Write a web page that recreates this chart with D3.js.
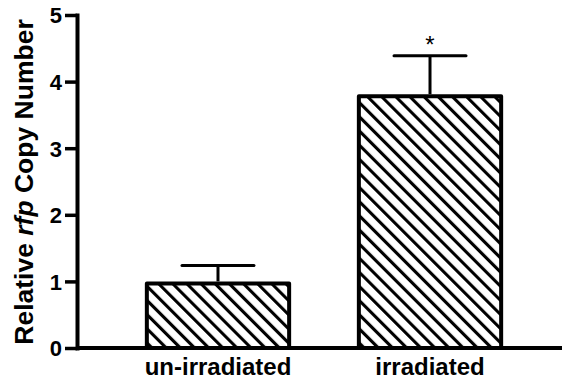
<!DOCTYPE html>
<html>
<head>
<meta charset="utf-8">
<script src="https://cdn.jsdelivr.net/npm/d3@7"></script>
<style>
  body { margin: 0; background: #fff; }
  text { font-family: "Liberation Sans", Arial, sans-serif; font-weight: bold; fill: #000; }
</style>
</head>
<body>
<svg id="chart" width="562" height="379"></svg>
<script>
// data
var categories = ["un-irradiated", "irradiated"];
var means = [1.0, 3.81];
var errors = [0.24, 0.58];
var stars = ["", "*"];
var yTicks = [0, 1, 2, 3, 4, 5];

var W = 562, H = 379;
var svg = d3.select("#chart");

var y = d3.scaleLinear().domain([0, 5]).range([348, 15]);
var x = d3.scaleBand()
    .domain(categories)
    .range([77, 571])
    .paddingInner(0.31)
    .paddingOuter(0.32);

// hatch fill
var pat = svg.append("defs").append("pattern")
    .attr("id", "hatch")
    .attr("patternUnits", "userSpaceOnUse")
    .attr("width", 10).attr("height", 10)
    .attr("patternTransform", "rotate(-45)");
pat.append("rect").attr("width", 10).attr("height", 10).attr("fill", "#fff");
pat.append("line")
    .attr("x1", 1.5).attr("y1", 0).attr("x2", 1.5).attr("y2", 10)
    .attr("stroke", "#000").attr("stroke-width", 3.2);

// error bars (drawn first, bar outline covers the foot)
var eb = svg.append("g").attr("class", "errors")
    .selectAll("g").data(categories).enter().append("g");
eb.append("line")
    .attr("x1", function(d) { return x(d) + x.bandwidth() / 2; })
    .attr("x2", function(d) { return x(d) + x.bandwidth() / 2; })
    .attr("y1", function(d, i) { return y(means[i]); })
    .attr("y2", function(d, i) { return y(means[i] + errors[i]); })
    .attr("stroke", "#000").attr("stroke-width", 3);
eb.append("line")
    .attr("x1", function(d) { return x(d) + x.bandwidth() / 2 - 36; })
    .attr("x2", function(d) { return x(d) + x.bandwidth() / 2 + 36; })
    .attr("y1", function(d, i) { return y(means[i] + errors[i]); })
    .attr("y2", function(d, i) { return y(means[i] + errors[i]); })
    .attr("stroke", "#000").attr("stroke-width", 3)
    .attr("stroke-linecap", "round");
eb.append("text")
    .attr("x", function(d) { return x(d) + x.bandwidth() / 2; })
    .attr("y", function(d, i) { return y(means[i] + errors[i]) - 3; })
    .attr("text-anchor", "middle")
    .style("font-weight", "normal")
    .style("font-size", "24px")
    .text(function(d, i) { return stars[i]; });

// bars
svg.append("g").attr("class", "bars")
    .selectAll("rect").data(categories).enter().append("rect")
    .attr("x", function(d) { return x(d) + 2; })
    .attr("width", x.bandwidth() - 4)
    .attr("y", function(d, i) { return y(means[i]) + 2; })
    .attr("height", function(d, i) { return y(0) - y(means[i]) - 2; })
    .attr("fill", "url(#hatch)")
    .attr("stroke", "#000").attr("stroke-width", 4)
    .attr("stroke-linejoin", "round");

// y axis
var yAxis = svg.append("g")
    .attr("transform", "translate(77,0)")
    .call(d3.axisLeft(y).tickValues(yTicks).tickFormat(d3.format("d"))
        .tickSize(12).tickSizeOuter(0).tickPadding(3));
yAxis.select(".domain").attr("stroke-width", 4).attr("stroke-linecap", "square");
yAxis.selectAll(".tick line").attr("stroke-width", 3.5);
yAxis.selectAll(".tick text")
    .style("font-size", "22px")
    .attr("font-family", null).attr("dy", "0.36em");

// x axis
var xAxis = svg.append("g")
    .attr("transform", "translate(0,348)")
    .call(d3.axisBottom(x).tickSize(0).tickPadding(10));
xAxis.select(".domain").attr("d", "M77,0H" + W).attr("stroke-width", 4);
xAxis.selectAll(".tick text")
    .style("font-size", "24px")
    .attr("font-family", null);

// y title
var title = svg.append("text")
    .attr("transform", "translate(33,182) rotate(-90)")
    .attr("text-anchor", "middle")
    .style("font-size", "26.5px");
title.append("tspan").text("Relative ");
title.append("tspan").style("font-style", "italic").text("rfp");
title.append("tspan").text(" Copy Number");
</script>
</body>
</html>
